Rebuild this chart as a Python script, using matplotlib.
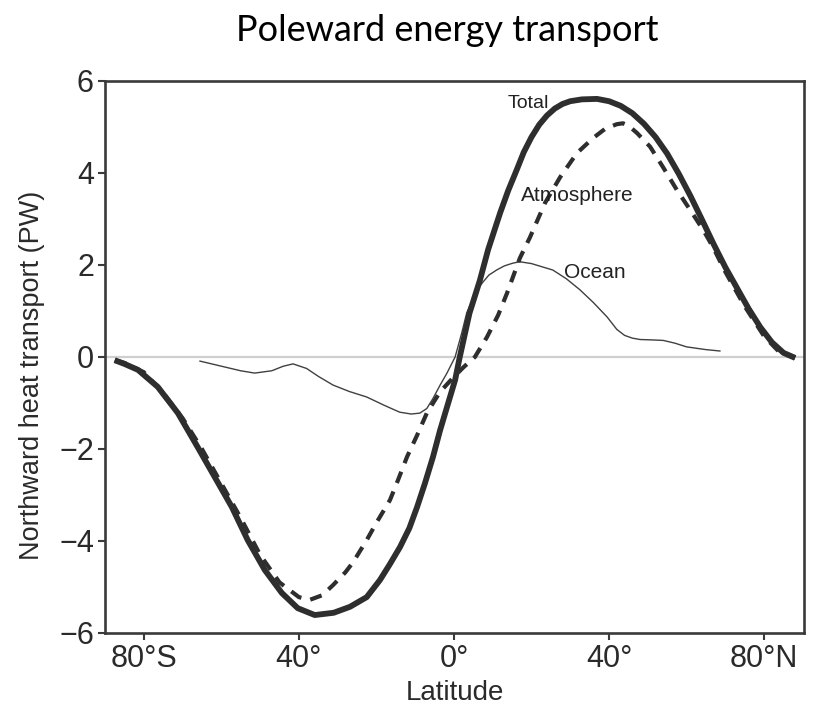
import matplotlib.pyplot as plt
import numpy as np

plt.rcParams['font.family'] = ['Liberation Sans', 'DejaVu Sans']

# values (latitude in degrees, transport in PW)
lat_total = [-87.5, -85, -81.5, -76.4, -71.2, -66.1, -61.7, -57.3, -53.2, -48.8,
             -44.4, -40.3, -35.9, -31, -26.8, -22.5, -19.1, -16.5, -13.9, -11.5,
             -9.5, -7.5, -5.4, -3.6, -1.8, 0.3, 1.5, 4, 6.7, 8.8, 11.9, 14, 16.2, 18,
             20, 22, 24, 26, 28, 30, 33, 36.9, 40, 43, 46, 49, 52, 55, 58, 61,
             64, 67, 70, 73, 76, 79, 82, 85, 88]
total = [-0.07, -0.15, -0.28, -0.65, -1.22, -1.96, -2.61, -3.26, -3.98, -4.63,
         -5.13, -5.46, -5.61, -5.56, -5.43, -5.22, -4.85, -4.5, -4.13, -3.72,
         -3.26, -2.75, -2.17, -1.6, -1.09, -0.5, 0.0, 0.95, 1.67, 2.33, 3.13, 3.62, 4.07, 4.45,
         4.78, 5.05, 5.25, 5.4, 5.5, 5.56, 5.6, 5.61, 5.56, 5.46, 5.3, 5.07, 4.78, 4.42, 3.98, 3.5,
         2.98, 2.45, 1.95, 1.5, 1.05, 0.65, 0.32, 0.09, -0.02]

lat_atmos = [-87.5, -85, -80, -75, -70, -65, -60, -55, -50, -45, -40, -37.2,
             -34, -31.2, -28, -26, -22.5, -19.9, -16.5, -14.4, -12.1, -9.5, -7,
             -3.6, 0, 2.5, 5.4, 8.5, 11.4, 13.7, 15.7, 17, 19.6, 23.5, 27.4, 31.7,
             35.9, 39, 42, 43.6, 45, 47.2, 50.6, 53.9, 57.5, 60.9, 64.3, 66.8, 70,
             75, 80, 84, 88]
atmos = [-0.07, -0.13, -0.33, -0.78, -1.33, -2.0, -2.75, -3.5, -4.3, -4.9, -5.22, -5.28,
         -5.18, -4.96, -4.68, -4.46, -3.98, -3.59, -3.11, -2.67, -2.17, -1.7, -1.22,
         -0.76, -0.43, -0.22, 0.0, 0.43, 0.91, 1.39, 1.85, 2.15, 2.6, 3.35, 3.91, 4.43,
         4.76, 4.96, 5.06, 5.08, 5.03, 4.87, 4.57, 4.13, 3.63, 3.2, 2.76, 2.39, 1.85,
         1.1, 0.45, 0.1, -0.02]

lat_ocean = [-65.5, -60, -55, -51.4, -47, -44, -41.5, -38, -35, -31.2, -27, -22.5,
             -18, -14, -11, -8.8, -7, -5.4, -3.5, -1.8, 0.3, 2, 3.3, 5.9, 7.5, 9,
             11, 13, 15.2, 17, 20, 25.5, 29, 32.5, 36, 39.5, 42, 44, 46, 48, 51.4,
             54, 57, 60, 65, 68.6]
ocean = [-0.09, -0.2, -0.3, -0.35, -0.3, -0.2, -0.15, -0.25, -0.42, -0.61, -0.75, -0.87,
         -1.05, -1.2, -1.24, -1.22, -1.12, -0.9, -0.6, -0.35, 0.0, 0.52, 0.96, 1.46, 1.63, 1.78,
         1.89, 1.98, 2.04, 2.07, 2.03, 1.89, 1.7, 1.46, 1.18, 0.87, 0.6, 0.47, 0.41, 0.38, 0.37,
         0.36, 0.3, 0.22, 0.16, 0.13]

xtick_pos = [-80, -40, 0, 40, 80]
xtick_lab = ['80°S', '40°', '0°', '40°', '80°N']
ytick_pos = [-6, -4, -2, 0, 2, 4, 6]

fig = plt.figure(figsize=(8.25, 7.09), dpi=100)
ax = fig.add_axes([0.1273, 0.1072, 0.8473, 0.7786])

ax.axhline(0, color='#cfcfcf', lw=1.6, zorder=1)
ax.plot(lat_ocean, ocean, color='#404040', lw=1.0, zorder=2)
ax.plot(lat_atmos, atmos, color='#2e2e2e', lw=3.0, dashes=(2.9, 2.2),
        dash_capstyle='butt', zorder=3)
ax.plot(lat_total, total, color='#2e2e2e', lw=4.2, solid_capstyle='butt',
        solid_joinstyle='round', zorder=4)

ax.text(19.1, 5.52, 'Total', fontsize=14, ha='center', va='center', color='#222222')
ax.text(31.7, 3.52, 'Atmosphere', fontsize=15, ha='center', va='center', color='#222222')
ax.text(36.4, 1.83, 'Ocean', fontsize=15, ha='center', va='center', color='#222222')

ax.set_xlim(-90, 90.3)
ax.set_ylim(-6, 6)
ax.set_xticks(xtick_pos)
ax.set_xticklabels(xtick_lab)
ax.set_yticks(ytick_pos)
ax.tick_params(direction='out', length=5, width=1.5, color='#3a3a3a',
               labelsize=22, labelcolor='#2a2a2a', pad=3)
for s in ax.spines.values():
    s.set_linewidth(1.9)
    s.set_color('#3a3a3a')

ax.set_xlabel('Latitude', fontsize=20, color='#2a2a2a', labelpad=4)
ax.set_ylabel('Northward heat transport (PW)', fontsize=19.5, color='#2a2a2a')
ax.yaxis.set_label_coords(-0.086, 0.466)

fig.text(0.542, 0.957, 'Poleward energy transport', fontsize=26, family='Lato',
         ha='center', va='center', color='black')

fig.savefig('out.png', dpi=100)
